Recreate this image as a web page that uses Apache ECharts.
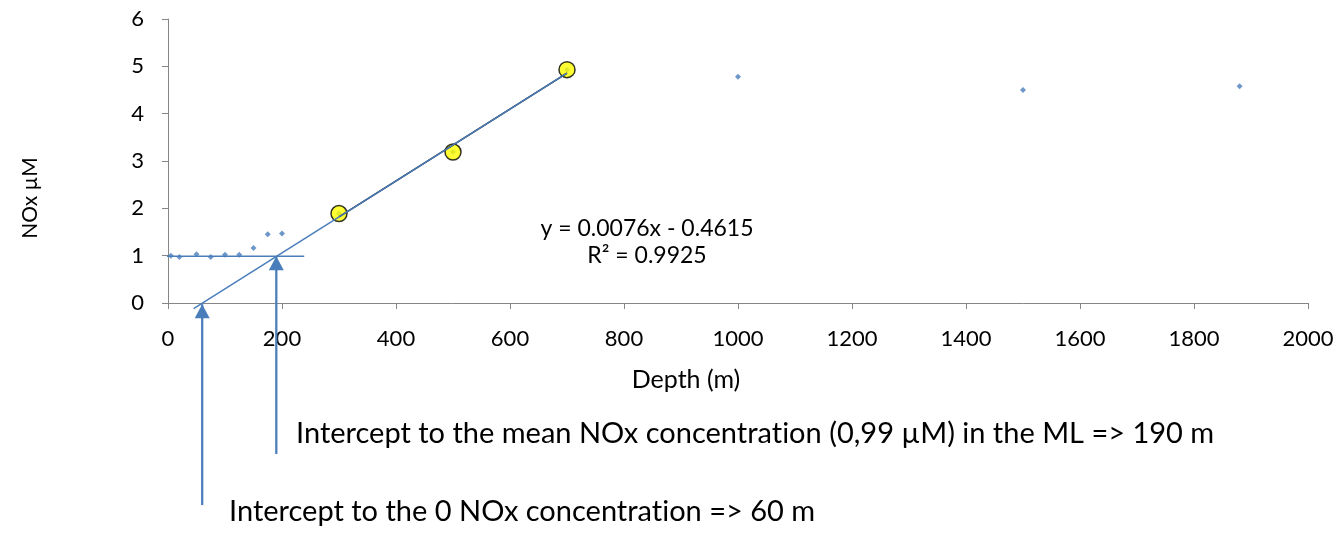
<!DOCTYPE html>
<html>
<head>
<meta charset="utf-8">
<title>NOx vs depth</title>
<script src="https://cdn.jsdelivr.net/npm/echarts@6/dist/echarts.min.js"></script>
<style>
  html, body { margin: 0; padding: 0; background: #fff; }
  #chart { width: 1343px; height: 533px; }
</style>
</head>
<body>
<div id="chart"></div>
<script>
// NOx profile (µM) against sampling depth (m)
const depthAll = [5, 20, 50, 75, 100, 125, 150, 175, 200, 300, 500, 700, 1000, 1500, 1880];
const noxAll   = [1.00, 0.97, 1.03, 0.97, 1.02, 1.02, 1.16, 1.45, 1.47, 1.89, 3.19, 4.93, 4.78, 4.50, 4.58];

// Points used for the nitracline regression
const fitDepth = [300, 500, 700];
const fitNox   = [1.89, 3.19, 4.93];

// Linear trendline stated in the equation label
const TREND_SLOPE = 0.0076;
const TREND_INTERCEPT = -0.4615;
const TREND_R2 = 0.9925;

// Mixed-layer mean NOx and intercept depths
const ML_MEAN = 0.99;
const mlLineDepth = [-132, 239];
const extendedFitDepth = [45, 700];
const zeroInterceptDepth = 60;
const meanInterceptDepth = 190;
const arrowBase = [-4.27, -3.19];

// Axis ticks
const xTicks = { min: 0, max: 2000, interval: 200 };
const yTicks = { min: 0, max: 6, interval: 1 };

const BLUE = '#4A7EBB';
const AXIS_GREY = '#868686';
const FONT = 'Lato, "Open Sans", sans-serif';

const trend = x => TREND_SLOPE * x + TREND_INTERCEPT;
const eqText = 'y = ' + TREND_SLOPE.toFixed(4) + 'x - ' + Math.abs(TREND_INTERCEPT).toFixed(4);
const r2Text = 'R² = ' + TREND_R2.toFixed(4);
// U+200C keeps the "ti" pair from being joined into a ligature
const noteMean = 'Intercept to the mean NOx concentrat\u200Cion (0,99 µM) in the ML => 190 m';
const noteZero = 'Intercept to the 0 NOx concentrat\u200Cion => 60 m';

function arrowData(x, yBase, yTip) {
  return [
    { value: [x, yBase], symbol: 'none' },
    { value: [x, yTip], symbol: 'triangle', symbolSize: [15, 14], symbolOffset: [0, '50%'] }
  ];
}

const chart = echarts.init(document.getElementById('chart'), null, { renderer: 'canvas' });

const axisCommon = {
  type: 'value',
  axisLine: { show: true, lineStyle: { color: AXIS_GREY, width: 1 } },
  axisTick: { show: true, inside: false, length: 6, lineStyle: { color: AXIS_GREY, width: 1 } },
  splitLine: { show: false },
  axisLabel: { color: '#000', fontFamily: FONT, fontSize: 22, formatter: v => String(v) }
};

chart.setOption({
  animation: false,
  backgroundColor: '#fff',
  grid: { left: 168, right: 35, top: 19, bottom: 230, containLabel: false },
  xAxis: Object.assign({}, axisCommon, {
    min: xTicks.min, max: xTicks.max, interval: xTicks.interval,
    axisLabel: Object.assign({}, axisCommon.axisLabel, { margin: 25 })
  }),
  yAxis: Object.assign({}, axisCommon, {
    min: yTicks.min, max: yTicks.max, interval: yTicks.interval,
    axisLabel: Object.assign({}, axisCommon.axisLabel, { margin: 24 })
  }),
  series: [
    {
      name: 'NOx',
      type: 'scatter',
      data: depthAll.map((d, i) => [d, noxAll[i]]),
      symbol: 'diamond',
      symbolSize: 6,
      itemStyle: { color: BLUE },
      z: 2
    },
    {
      name: 'Regression points',
      type: 'scatter',
      data: fitDepth.map((d, i) => [d, fitNox[i]]),
      symbol: 'circle',
      symbolSize: 16,
      itemStyle: { color: '#FFFF00', borderColor: '#000', borderWidth: 1.5 },
      z: 3
    },
    {
      name: 'Linear fit',
      type: 'line',
      data: [fitDepth[0], fitDepth[fitDepth.length - 1]].map(x => [x, trend(x)]),
      symbol: 'none',
      lineStyle: { color: '#000', width: 1.5 },
      z: 4
    },
    {
      name: 'Extended fit',
      type: 'line',
      data: extendedFitDepth.map(x => [x, trend(x)]),
      symbol: 'none',
      clip: false,
      lineStyle: { color: BLUE, width: 1.5 },
      z: 5
    },
    {
      name: 'ML mean',
      type: 'line',
      data: mlLineDepth.map(x => [x, ML_MEAN]),
      symbol: 'none',
      clip: false,
      lineStyle: { color: BLUE, width: 1.5 },
      z: 5
    },
    {
      name: 'Zero intercept',
      type: 'line',
      data: arrowData(zeroInterceptDepth, arrowBase[0], trend(zeroInterceptDepth) - 0.02),
      clip: false,
      lineStyle: { color: BLUE, width: 2.25 },
      itemStyle: { color: BLUE },
      z: 6
    },
    {
      name: 'Mean intercept',
      type: 'line',
      data: arrowData(meanInterceptDepth, arrowBase[1], ML_MEAN),
      clip: false,
      lineStyle: { color: BLUE, width: 2.25 },
      itemStyle: { color: BLUE },
      z: 6
    }
  ],
  graphic: [
    {
      type: 'text', x: 647, y: 229,
      style: { text: eqText, font: '23px ' + FONT, fill: '#000', align: 'center', verticalAlign: 'middle', textAlign: 'center', textVerticalAlign: 'middle' }
    },
    {
      type: 'text', x: 647, y: 256,
      style: { text: r2Text, font: '23px ' + FONT, fill: '#000', align: 'center', verticalAlign: 'middle', textAlign: 'center', textVerticalAlign: 'middle' }
    },
    {
      type: 'text', x: 686, y: 380,
      style: { text: 'Depth (m)', font: '25px ' + FONT, fill: '#000', align: 'center', verticalAlign: 'middle', textAlign: 'center', textVerticalAlign: 'middle' }
    },
    {
      type: 'text', x: 30, y: 198, rotation: Math.PI / 2,
      style: { text: 'NOx µM', font: '21px ' + FONT, fill: '#000', align: 'center', verticalAlign: 'middle', textAlign: 'center', textVerticalAlign: 'middle' }
    },
    {
      type: 'text', x: 296, y: 434,
      style: { text: noteMean, font: '29px ' + FONT, fill: '#000', align: 'left', verticalAlign: 'middle', textAlign: 'left', textVerticalAlign: 'middle' }
    },
    {
      type: 'text', x: 229, y: 512,
      style: { text: noteZero, font: '29px ' + FONT, fill: '#000', align: 'left', verticalAlign: 'middle', textAlign: 'left', textVerticalAlign: 'middle' }
    }
  ]
});
</script>
</body>
</html>
